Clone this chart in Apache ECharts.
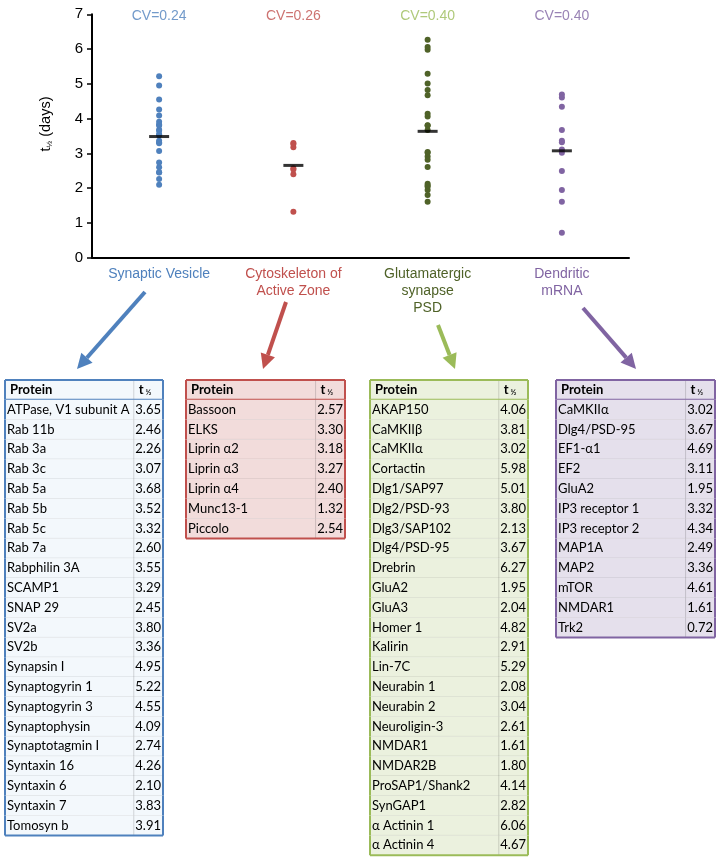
<!DOCTYPE html>
<html>
<head>
<meta charset="utf-8">
<script src="https://cdn.jsdelivr.net/npm/echarts@6/dist/echarts.min.js"></script>
<style>html,body{margin:0;padding:0;background:#fff}#c{width:720px;height:860px}</style>
</head>
<body>
<div id="c"></div>
<script>
// ---- data ----
const categories = ['Synaptic Vesicle', 'Cytoskeleton of\nActive Zone', 'Glutamatergic\nsynapse\nPSD', 'Dendritic\nmRNA'];
const cvLabels = ['CV=0.24', 'CV=0.26', 'CV=0.40', 'CV=0.40'];
const yTicks = [0, 1, 2, 3, 4, 5, 6, 7];

const svProteins = ['ATPase, V1 subunit A','Rab 11b','Rab 3a','Rab 3c','Rab 5a','Rab 5b','Rab 5c','Rab 7a','Rabphilin 3A','SCAMP1','SNAP 29','SV2a','SV2b','Synapsin I','Synaptogyrin 1','Synaptogyrin 3','Synaptophysin','Synaptotagmin I','Syntaxin 16','Syntaxin 6','Syntaxin 7','Tomosyn b'];
const svHalfLife = [3.65,2.46,2.26,3.07,3.68,3.52,3.32,2.60,3.55,3.29,2.45,3.80,3.36,4.95,5.22,4.55,4.09,2.74,4.26,2.10,3.83,3.91];

const azProteins = ['Bassoon','ELKS','Liprin α2','Liprin α3','Liprin α4','Munc13-1','Piccolo'];
const azHalfLife = [2.57,3.30,3.18,3.27,2.40,1.32,2.54];

const psdProteins = ['AKAP150','CaMKIIβ','CaMKIIα','Cortactin','Dlg1/SAP97','Dlg2/PSD-93','Dlg3/SAP102','Dlg4/PSD-95','Drebrin','GluA2','GluA3','Homer 1','Kalirin','Lin-7C','Neurabin 1','Neurabin 2','Neuroligin-3','NMDAR1','NMDAR2B','ProSAP1/Shank2','SynGAP1','α Actinin 1','α Actinin 4'];
const psdHalfLife = [4.06,3.81,3.02,5.98,5.01,3.80,2.13,3.67,6.27,1.95,2.04,4.82,2.91,5.29,2.08,3.04,2.61,1.61,1.80,4.14,2.82,6.06,4.67];

const mrnaProteins = ['CaMKIIα','Dlg4/PSD-95','EF1-α1','EF2','GluA2','IP3 receptor 1','IP3 receptor 2','MAP1A','MAP2','mTOR','NMDAR1','Trk2'];
const mrnaHalfLife = [3.02,3.67,4.69,3.11,1.95,3.32,4.34,2.49,3.36,4.61,1.61,0.72];

// ---- styling / layout ----
const groups = [
  {names: svProteins, vals: svHalfLife, dot: '#4F81BD', label: '#4F81BD', cv: '#4F81BD', border: '#4F81BD', fill: '#F3F8FC', left: 5, width: 158},
  {names: azProteins, vals: azHalfLife, dot: '#C0504D', label: '#C0504D', cv: '#C0504D', border: '#C0504D', fill: '#F2DCDB', left: 186, width: 159},
  {names: psdProteins, vals: psdHalfLife, dot: '#4F6228', label: '#4F6228', cv: '#9BBB59', border: '#9BBB59', fill: '#EBF1DE', left: 370, width: 158},
  {names: mrnaProteins, vals: mrnaHalfLife, dot: '#8064A2', label: '#8064A2', cv: '#8064A2', border: '#8064A2', fill: '#E5E0EC', left: 556, width: 159}
];
const arrowColors = ['#4F81BD', '#C0504D', '#9BBB59', '#8064A2'];
const arrowPaths = [[145,292,77,369],[286,302,263,369],[438,325,455,369],[583,308,636,369]];
const ROW_H = 19.8, TABLE_TOP = 380, SEP = 0.815;
const TFONT = 'Lato';
const TSIZE = 13;

const chart = echarts.init(document.getElementById('c'), null, {renderer: 'canvas'});

const grids = [{left: 92, right: 91, top: 14.3, bottom: 602.3}];
const xAxes = [{
  type: 'category', gridIndex: 0, data: categories, boundaryGap: true,
  axisLine: {show: true, lineStyle: {color: '#000', width: 2}},
  axisTick: {show: false},
  axisLabel: {interval: 0, margin: 8, fontSize: 14, lineHeight: 17, fontFamily: 'Liberation Sans',
    color: (v, i) => groups[i].label}
}];
const yAxes = [{
  type: 'value', gridIndex: 0, min: 0, max: 7, interval: 1,
  axisLine: {show: true, lineStyle: {color: '#000', width: 2}},
  axisTick: {show: true, length: 5, lineStyle: {color: '#000', width: 1.5}},
  axisLabel: {fontSize: 15, color: '#000', margin: 9, fontFamily: 'Liberation Sans',
    formatter: v => yTicks.includes(v) ? String(v) : ''},
  splitLine: {show: false},
  name: '{a|t}{s|½}{a| (days)}', nameLocation: 'middle', nameGap: 38,
  nameTextStyle: {padding: [0, 0, 0, 24], rich: {a: {fontSize: 14.5, color: '#000', fontFamily: 'Liberation Sans'},
    s: {fontSize: 8, color: '#000', verticalAlign: 'bottom', padding: [8, 0, 0, 0], fontFamily: 'Liberation Sans'}}}
}];

const series = [];
groups.forEach((g, i) => {
  series.push({
    type: 'scatter', xAxisIndex: 0, yAxisIndex: 0, symbolSize: 6, z: 2,
    itemStyle: {color: g.dot, opacity: 1},
    data: g.vals.map(v => [i, v])
  });
});
const means = groups.map(g => g.vals.reduce((a, b) => a + b, 0) / g.vals.length);
series.push({
  type: 'scatter', xAxisIndex: 0, yAxisIndex: 0, symbol: 'rect', symbolSize: [20, 3], z: 3,
  itemStyle: {color: '#000'},
  data: means.map((m, i) => [i, m])
});
series.push({
  type: 'scatter', xAxisIndex: 0, yAxisIndex: 0, symbolSize: 0, z: 3,
  data: cvLabels.map((t, i) => ({value: [i, 7], label: {show: true, position: 'inside', offset: [0, 2],
    formatter: t, color: groups[i].cv, fontSize: 14, fontFamily: 'Liberation Sans'}})),
  silent: true
});

// tables
groups.forEach((g, ti) => {
  const n = g.names.length + 1;
  const gi = ti + 1;
  grids.push({left: g.left, top: TABLE_TOP, width: g.width, height: n * ROW_H});
  xAxes.push({type: 'value', gridIndex: gi, min: 0, max: 1, show: false});
  yAxes.push({type: 'category', gridIndex: gi, inverse: true, show: false,
    data: ['Protein'].concat(g.names)});
  const rows = [];
  for (let r = 0; r < n; r++) rows.push([0, r]);
  series.push({
    type: 'custom', xAxisIndex: gi, yAxisIndex: gi, silent: true, clip: false,
    data: rows,
    encode: {x: 0, y: 1},
    renderItem: (params, api) => {
      const r = api.value(1);
      const p0 = api.coord([0, r]);
      const p1 = api.coord([1, r]);
      const h = api.size([0, 1])[1];
      const top = p0[1] - h / 2, bot = p0[1] + h / 2;
      const x0 = p0[0], x1 = p1[0], w = x1 - x0;
      const xs = x0 + SEP * w;
      const kids = [];
      kids.push({type: 'rect', shape: {x: x0, y: top, width: w, height: h}, style: {fill: g.fill}});
      if (r > 0 && r < n - 1) kids.push({type: 'line', shape: {x1: x0, y1: bot, x2: x1, y2: bot}, style: {stroke: 'rgba(0,0,0,0.13)', lineWidth: 1}});
      kids.push({type: 'line', shape: {x1: xs, y1: top, x2: xs, y2: bot}, style: {stroke: 'rgba(0,0,0,0.15)', lineWidth: 1}});
      if (r === 0) {
        kids.push({type: 'line', shape: {x1: x0, y1: bot, x2: x1, y2: bot}, style: {stroke: g.border, lineWidth: 2}});
        kids.push({type: 'line', shape: {x1: x0, y1: top, x2: x1, y2: top}, style: {stroke: g.border, lineWidth: 2}});
        kids.push({type: 'text', x: x0 + 5, y: p0[1], style: {text: 'Protein', fill: '#000', font: 'bold ' + TSIZE + 'px ' + TFONT, verticalAlign: 'middle', align: 'left'}});
        kids.push({type: 'text', x: xs + 5, y: p0[1], style: {text: '{b|t}{s| ½}', verticalAlign: 'middle', align: 'left',
          rich: {b: {font: 'bold ' + TSIZE + 'px ' + TFONT, fill: '#000'}, s: {font: 'bold 8px ' + TFONT, fill: '#000', padding: [6, 0, 0, 0]}}}});
      } else {
        kids.push({type: 'text', x: x0 + 2, y: p0[1], style: {text: g.names[r - 1], fill: '#000', font: TSIZE + 'px ' + TFONT, verticalAlign: 'middle', align: 'left'}});
        kids.push({type: 'text', x: x1 - 2, y: p0[1], style: {text: g.vals[r - 1].toFixed(2), fill: '#000', font: TSIZE + 'px ' + TFONT, verticalAlign: 'middle', align: 'right'}});
      }
      if (r === n - 1) kids.push({type: 'line', shape: {x1: x0, y1: bot, x2: x1, y2: bot}, style: {stroke: g.border, lineWidth: 2}});
      kids.push({type: 'line', shape: {x1: x0, y1: top, x2: x0, y2: bot}, style: {stroke: g.border, lineWidth: 2}});
      kids.push({type: 'line', shape: {x1: x1, y1: top, x2: x1, y2: bot}, style: {stroke: g.border, lineWidth: 2}});
      return {type: 'group', children: kids};
    }
  });
});

// arrows
const graphics = [];
arrowPaths.forEach((a, i) => {
  const [x1, y1, x2, y2] = a;
  const ang = Math.atan2(y2 - y1, x2 - x1);
  const L = 15, W = 7.5;
  const bx = x2 - L * Math.cos(ang), by = y2 - L * Math.sin(ang);
  graphics.push({type: 'line', shape: {x1, y1, x2: bx, y2: by}, style: {stroke: arrowColors[i], lineWidth: 4}});
  graphics.push({type: 'polygon', shape: {points: [[x2, y2], [bx + W * Math.sin(ang), by - W * Math.cos(ang)], [bx - W * Math.sin(ang), by + W * Math.cos(ang)]]}, style: {fill: arrowColors[i]}});
});

chart.setOption({
  animation: false,
  backgroundColor: '#fff',
  textStyle: {fontFamily: 'Liberation Sans'},
  grid: grids, xAxis: xAxes, yAxis: yAxes, series: series,
  graphic: graphics
});
</script>
</body>
</html>
